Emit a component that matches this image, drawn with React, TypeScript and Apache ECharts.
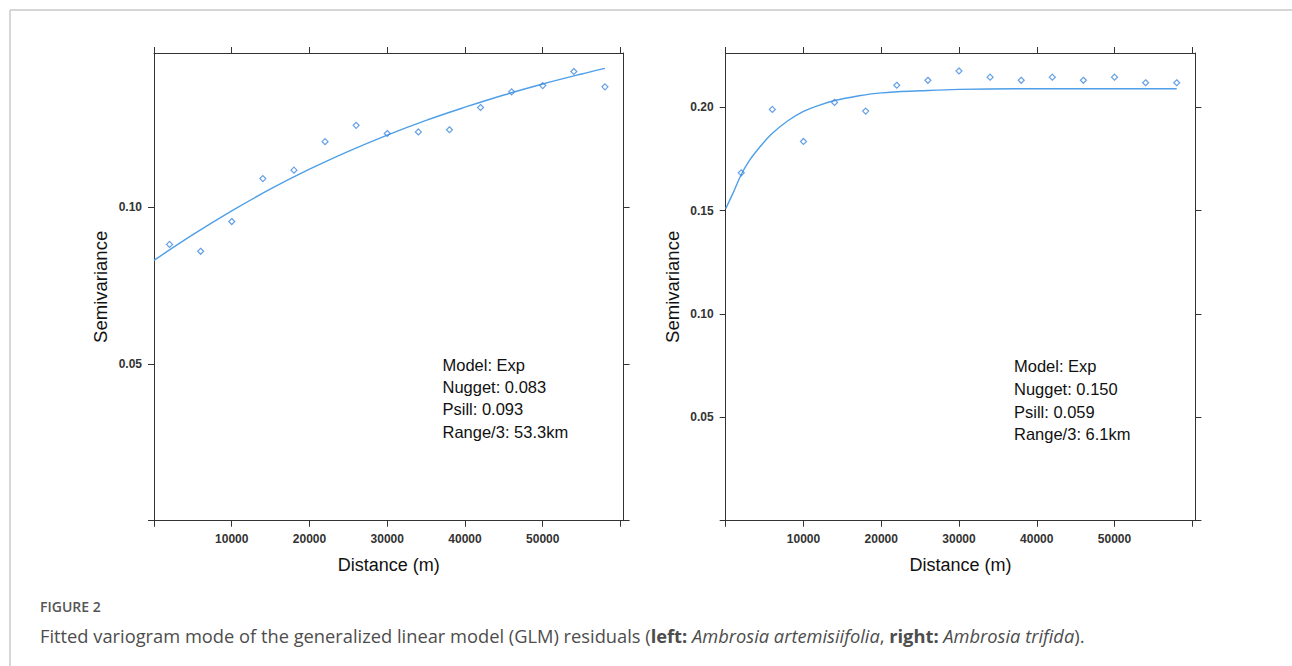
import React, { useEffect, useRef } from "react";
import * as echarts from "echarts";

// ---- data ----
const LAG_DISTANCE = [2000, 6000, 10000, 14000, 18000, 22000, 26000, 30000, 34000, 38000, 42000, 46000, 50000, 54000, 58000];
const LEFT_SEMIVAR = [0.0882, 0.086, 0.0955, 0.1092, 0.1119, 0.121, 0.1262, 0.1236, 0.1241, 0.1248, 0.1319, 0.1369, 0.1389, 0.1434, 0.1385];
const RIGHT_SEMIVAR = [0.1683, 0.199, 0.1835, 0.2024, 0.1982, 0.2107, 0.2131, 0.2176, 0.2146, 0.2131, 0.2146, 0.2131, 0.2146, 0.2119, 0.2119];

const LEFT_FIT_X = [0, 5000, 10000, 15000, 20000, 25000, 30000, 35000, 40000, 45000, 50000, 55000, 58000];
const LEFT_FIT_Y = [0.0831, 0.0913, 0.0989, 0.1059, 0.1122, 0.1179, 0.1231, 0.1278, 0.132, 0.1359, 0.1394, 0.1426, 0.1444];
const RIGHT_FIT_X = [0, 1000, 2000, 3000, 4000, 5000, 6000, 8000, 10000, 12000, 14000, 17000, 20000, 25000, 30000, 40000, 58000];
const RIGHT_FIT_Y = [0.151, 0.159, 0.1675, 0.174, 0.179, 0.1835, 0.1875, 0.1935, 0.198, 0.201, 0.2033, 0.2055, 0.207, 0.208, 0.2087, 0.209, 0.209];

const X_TICKS = [0, 10000, 20000, 30000, 40000, 50000, 60000];
const X_LABELS = [10000, 20000, 30000, 40000, 50000];
const LEFT_Y_TICKS = [0, 0.05, 0.1];
const LEFT_Y_LABELS = [0.05, 0.1];
const RIGHT_Y_TICKS = [0, 0.05, 0.1, 0.15, 0.2];
const RIGHT_Y_LABELS = [0.05, 0.1, 0.15, 0.2];

const LEFT_NOTE = ["Model: Exp", "Nugget: 0.083", "Psill: 0.093", "Range/3: 53.3km"];
const RIGHT_NOTE = ["Model: Exp", "Nugget: 0.150", "Psill: 0.059", "Range/3: 6.1km"];

const FIG_LABEL = "FIGURE 2";
const CAPTION_PARTS = [
  ["n", "Fitted variogram mode of the generalized linear model (GLM) residuals ("],
  ["b", "left:"],
  ["i", " Ambrosia artemisiifolia"],
  ["n", ", "],
  ["b", "right:"],
  ["i", " Ambrosia trifida"],
  ["n", ")."],
];

const X_NAME = "Distance (m)";
const Y_NAME = "Semivariance";

const AXIS_COLOR = "#333";
const TICK_FONT = "'Liberation Sans Narrow', 'Liberation Sans', Arial, sans-serif";
const SANS = "'Liberation Sans', Arial, sans-serif";
const CAP_FONT = "'Open Sans', 'Noto Sans', sans-serif";

function xAxes(gridIndex: number) {
  const common = {
    type: "value",
    gridIndex,
    min: 0,
    max: 60400,
    splitLine: { show: false },
    axisLine: { show: true, onZero: false, lineStyle: { color: AXIS_COLOR, width: 1 } },
    axisTick: { show: true, inside: false, length: 6, customValues: X_TICKS, lineStyle: { color: AXIS_COLOR, width: 1 } },
  };
  return [
    {
      ...common,
      position: "bottom",
      name: X_NAME,
      nameLocation: "middle",
      nameGap: 35,
      nameTextStyle: { fontSize: 18, fontFamily: SANS, color: "#111" },
      axisLabel: {
        show: true,
        customValues: X_LABELS,
        margin: 12,
        fontSize: 12,
        fontWeight: "bold",
        fontFamily: TICK_FONT,
        color: "#333",
        formatter: (v: number) => String(v),
      },
    },
    { ...common, position: "top", axisLabel: { show: false } },
  ];
}

function yAxes(gridIndex: number, max: number, ticks: number[], labels: number[]) {
  const common = {
    type: "value",
    gridIndex,
    min: 0,
    max,
    splitLine: { show: false },
    axisLine: { show: true, onZero: false, lineStyle: { color: AXIS_COLOR, width: 1 } },
    axisTick: { show: true, inside: false, length: 6, customValues: ticks, lineStyle: { color: AXIS_COLOR, width: 1 } },
  };
  return [
    {
      ...common,
      position: "left",
      name: Y_NAME,
      nameLocation: "middle",
      nameGap: 44,
      nameRotate: 90,
      nameTextStyle: { fontSize: 18.5, fontFamily: SANS, color: "#111" },
      axisLabel: {
        show: true,
        customValues: labels,
        margin: 12,
        fontSize: 12,
        fontWeight: "bold",
        fontFamily: TICK_FONT,
        color: "#333",
        formatter: (v: number) => v.toFixed(2),
      },
    },
    { ...common, position: "right", axisLabel: { show: false } },
  ];
}

const POINT_COLOR = "#3f88dd";
const LINE_COLOR = "#4f9fe8";

function pairs(xs: number[], ys: number[]) {
  return xs.map((x, i) => [x, ys[i]]);
}

export default function App() {
  const ref = useRef<HTMLDivElement>(null);
  useEffect(() => {
    if (!ref.current) return;
    const chart = echarts.init(ref.current, undefined, { renderer: "svg" });
    const rich = {
      n: { fontFamily: CAP_FONT, fontSize: 18.3, color: "#4d4d4d" },
      b: { fontFamily: CAP_FONT, fontSize: 18.3, color: "#4d4d4d", fontWeight: "bold" },
      i: { fontFamily: CAP_FONT, fontSize: 18.3, color: "#4d4d4d", fontStyle: "italic" },
    };
    const captionText = CAPTION_PARTS.map(([k, t]) => `{${k}|${t}}`).join("");
    const option = {
      animation: false,
      backgroundColor: "#fff",
      grid: [
        { left: 154, top: 53, width: 469.6, height: 467.7, containLabel: false },
        { left: 725.7, top: 53, width: 469.7, height: 467.7, containLabel: false },
      ],
      xAxis: [...xAxes(0), ...xAxes(1)],
      yAxis: [...yAxes(0, 0.1493, LEFT_Y_TICKS, LEFT_Y_LABELS), ...yAxes(1, 0.2263, RIGHT_Y_TICKS, RIGHT_Y_LABELS)],
      series: [
        {
          type: "line",
          xAxisIndex: 0,
          yAxisIndex: 0,
          data: pairs(LEFT_FIT_X, LEFT_FIT_Y),
          showSymbol: false,
          smooth: 0.4,
          lineStyle: { color: LINE_COLOR, width: 1.4 },
          z: 2,
        },
        {
          type: "scatter",
          xAxisIndex: 0,
          yAxisIndex: 0,
          data: pairs(LAG_DISTANCE, LEFT_SEMIVAR),
          symbol: "diamond",
          symbolSize: 6,
          itemStyle: { color: "rgba(255,255,255,0)", borderColor: POINT_COLOR, borderWidth: 1.2 },
          z: 3,
        },
        {
          type: "line",
          xAxisIndex: 2,
          yAxisIndex: 2,
          data: pairs(RIGHT_FIT_X, RIGHT_FIT_Y),
          showSymbol: false,
          smooth: 0.4,
          lineStyle: { color: LINE_COLOR, width: 1.4 },
          z: 2,
        },
        {
          type: "scatter",
          xAxisIndex: 2,
          yAxisIndex: 2,
          data: pairs(LAG_DISTANCE, RIGHT_SEMIVAR),
          symbol: "diamond",
          symbolSize: 6,
          itemStyle: { color: "rgba(255,255,255,0)", borderColor: POINT_COLOR, borderWidth: 1.2 },
          z: 3,
        },
      ],
      graphic: [
        { type: "line", shape: { x1: 10, y1: 10, x2: 1292, y2: 10 }, style: { stroke: "#c8c8c8", lineWidth: 1.5 } },
        { type: "line", shape: { x1: 10, y1: 10, x2: 10, y2: 666 }, style: { stroke: "#c8c8c8", lineWidth: 1.5 } },
        {
          type: "text",
          x: 442.5,
          y: 353.5,
          style: { text: LEFT_NOTE.join("\n"), fontSize: 16.5, fontFamily: SANS, fill: "#111", lineHeight: 22.3, verticalAlign: "top" },
        },
        {
          type: "text",
          x: 1014,
          y: 355,
          style: { text: RIGHT_NOTE.join("\n"), fontSize: 16.5, fontFamily: SANS, fill: "#111", lineHeight: 22.7, verticalAlign: "top" },
        },
        {
          type: "text",
          x: 40,
          y: 606,
          style: { text: FIG_LABEL, fontSize: 14, fontWeight: 600, fontFamily: CAP_FONT, fill: "#555", verticalAlign: "middle" },
        },
        {
          type: "text",
          x: 40,
          y: 635,
          style: { text: captionText, rich, fontSize: 18.3, fontFamily: CAP_FONT, fill: "#4d4d4d", verticalAlign: "middle" },
        },
      ],
    };
    chart.setOption(option as any);
    return () => chart.dispose();
  }, []);
  return (
    <div
      ref={ref}
      style={{ position: "fixed", left: 0, top: 0, width: 1292, height: 666, background: "#fff" }}
    />
  );
}
